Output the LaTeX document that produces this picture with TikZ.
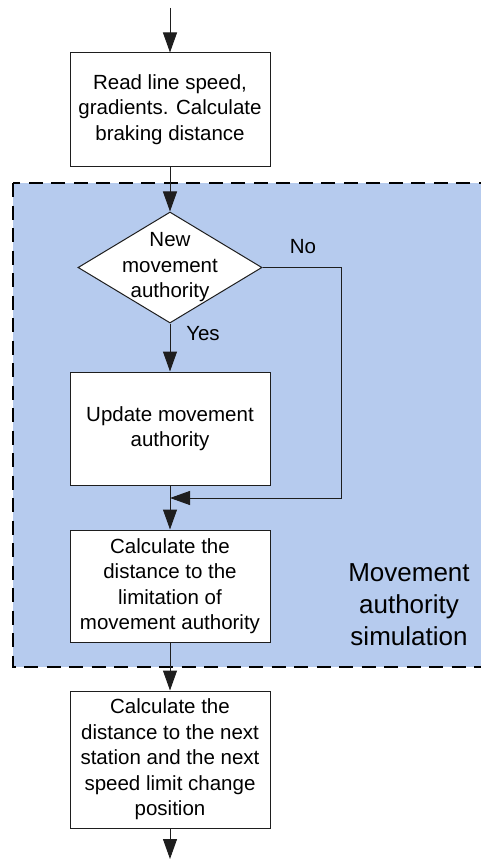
\documentclass[tikz,border=0pt]{standalone}
\usepackage{fontspec}
\setmainfont{Liberation Sans}
\usetikzlibrary{shapes.geometric,arrows.meta}
\definecolor{simfill}{RGB}{182,203,238}
\definecolor{edgegray}{RGB}{30,30,30}
\begin{document}
\begin{tikzpicture}[x=1pt,y=-1pt,
  every node/.style={font=\fontsize{20.5}{25.5}\selectfont, align=center},
  procbox/.style={draw=edgegray, line width=1pt, fill=white, minimum width=200pt, inner sep=0pt},
  decision/.style={diamond, draw=edgegray, line width=1pt, fill=white,
    minimum width=184pt, minimum height=111pt, inner sep=0pt},
  flow/.style={line width=1pt, draw=edgegray, -{Triangle[length=20pt,width=14pt]}},
  group/.style={draw=black, fill=simfill, line width=2pt, dash pattern=on 14pt off 8.5pt},
  grouplabel/.style={font=\fontsize{26}{32}\selectfont}]
\useasboundingbox (0,0) rectangle (481,859);
\clip (0,0) rectangle (481,859);

% shaded group for the movement authority simulation
\draw[group] (13,183) rectangle (500,667);

% flow nodes
\coordinate (start) at (170,8);
\node[procbox, minimum height=113pt] (read) at (170,109.5)
  {Read line speed,\\gradients. Calculate\\braking distance};
\node[decision] (new) at (170,267.5) {};
\node (newtxt) at (new.center) {New\\movement\\authority};
\node[procbox, minimum height=113pt] (update) at (170,428.5)
  {Update movement\\authority};
\node[procbox, minimum height=112pt] (limit) at (170,586)
  {Calculate the\\distance to the\\limitation of\\movement authority};
\node[procbox, minimum height=137pt] (next) at (170,759.5)
  {Calculate the\\distance to the next\\station and the next\\speed limit change\\position};
\coordinate (end) at (170,859);

% bypass route for "No"
\coordinate (noturn) at (341,267.5);
\coordinate (nodown) at (341,498);
\coordinate (merge) at (170,498);

% connectors
\draw[flow] (start) -- (read);
\draw[flow] (read) -- (new);
\draw[flow] (new) -- (update);
\draw[flow] (update) -- (limit);
\draw[flow] (new.east) -- (noturn) -- (nodown) -- (merge);
\draw[flow] (limit) -- (next);
\draw[flow] (next) -- (end);

% labels
\node (nolbl) at (303,247) {No};
\node (yeslbl) at (203,334) {Yes};
\node[grouplabel] (simlbl) at (409,605) {Movement\\authority\\simulation};
\end{tikzpicture}
\end{document}
